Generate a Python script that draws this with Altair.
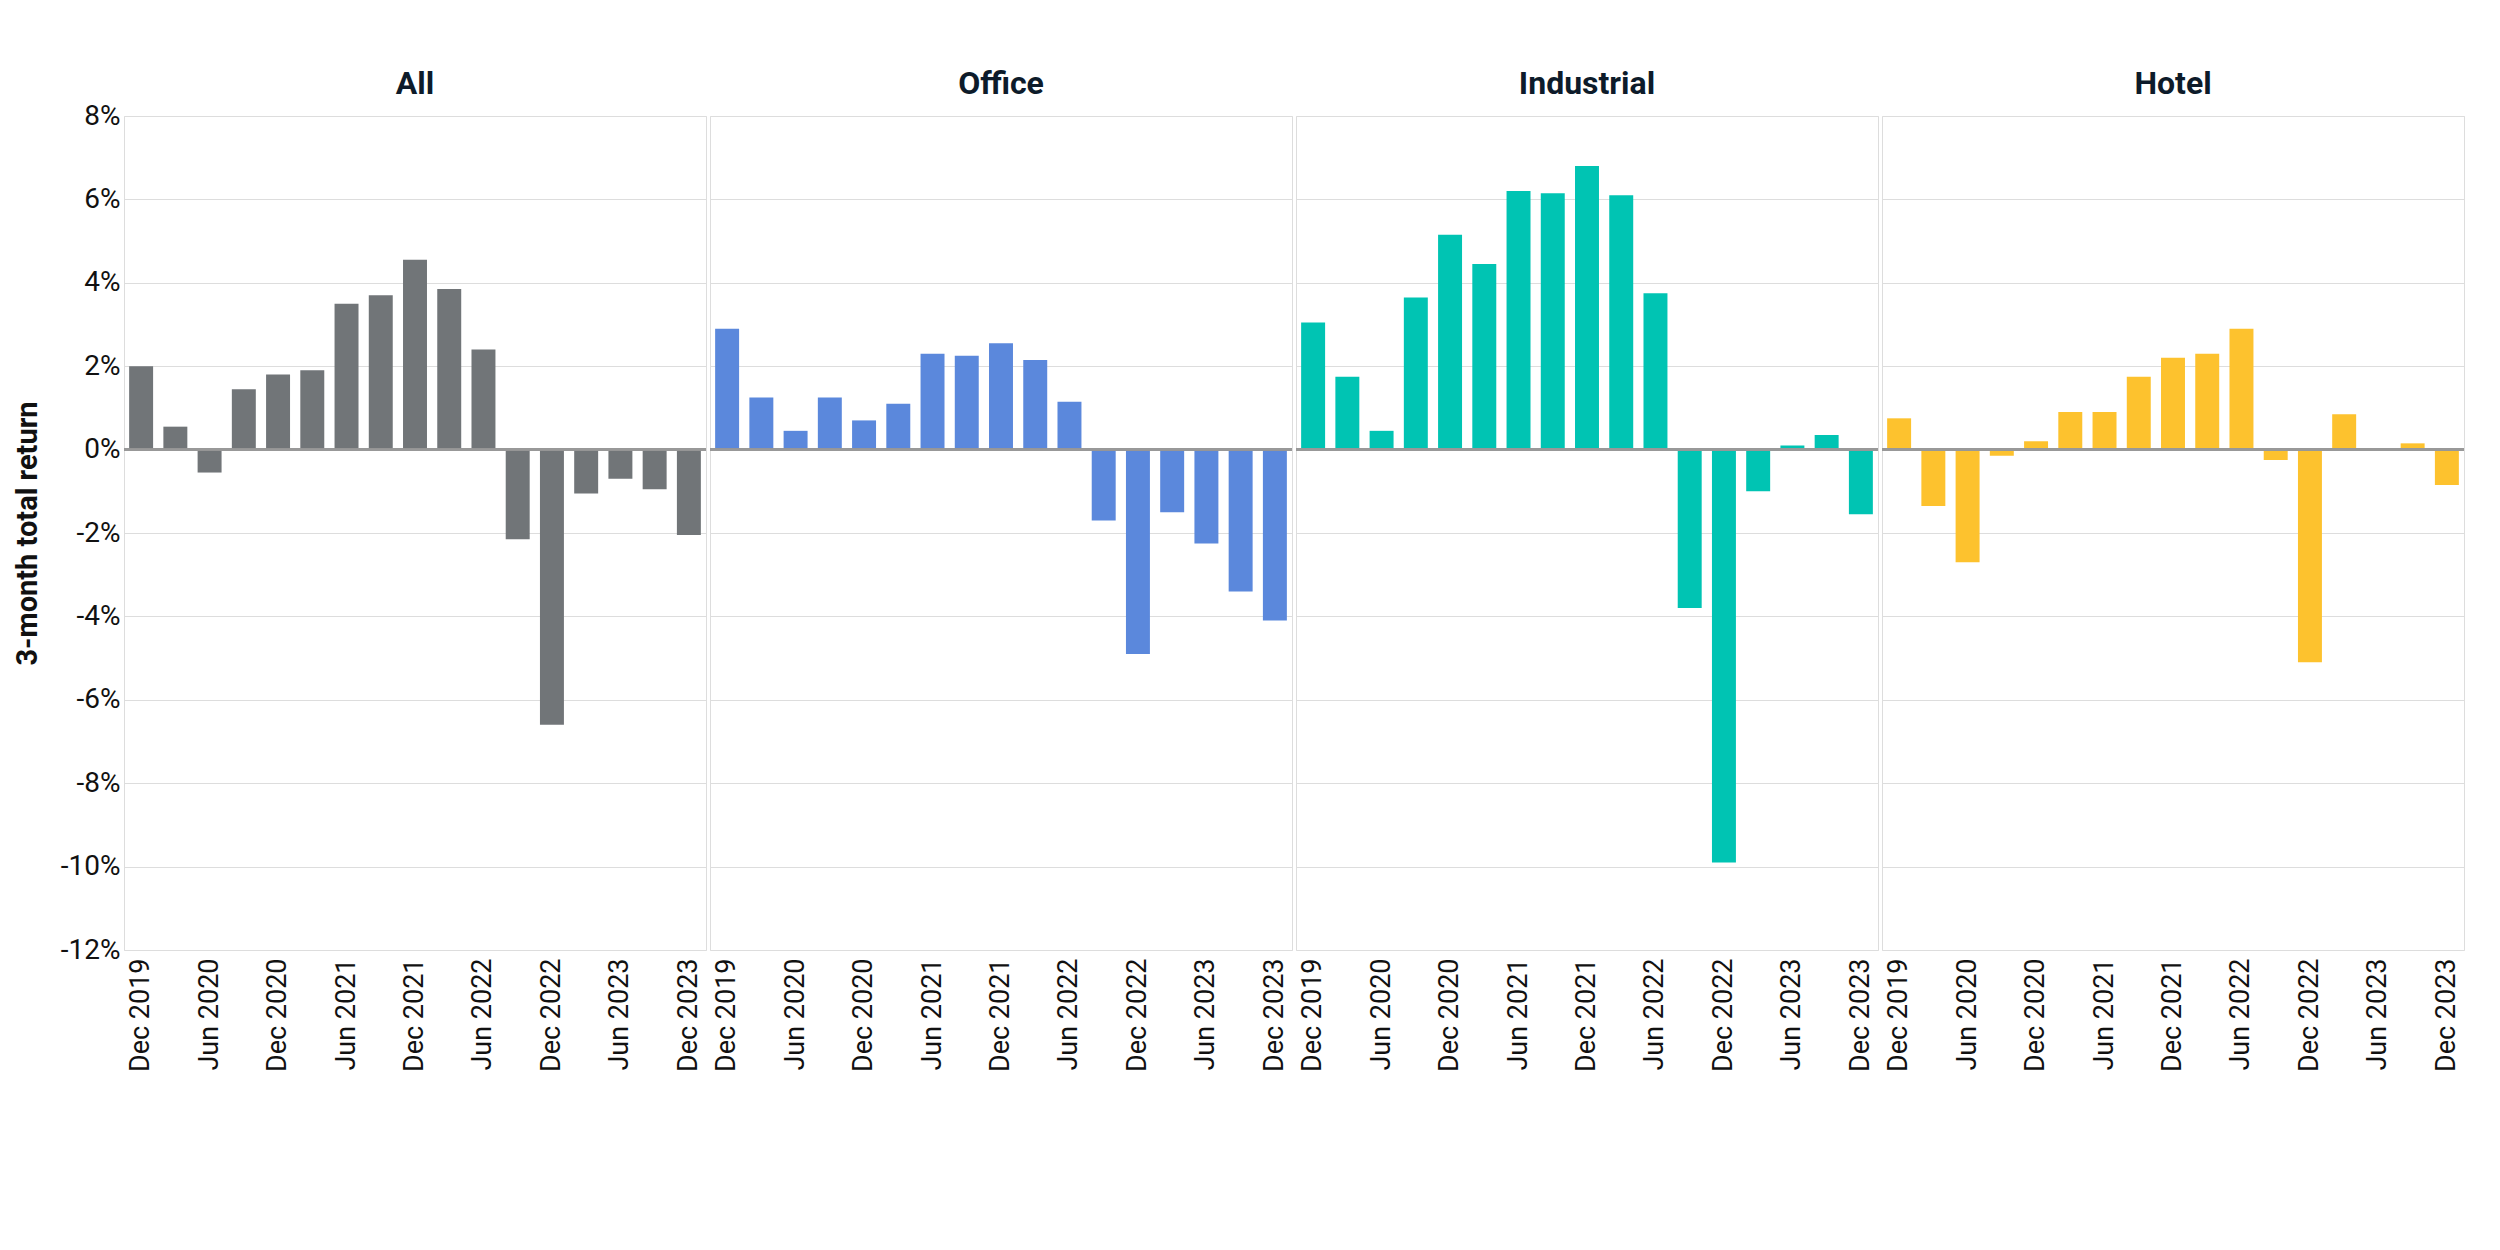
import altair as alt
import pandas as pd

quarters = ["Dec 2019","Mar 2020","Jun 2020","Sep 2020","Dec 2020","Mar 2021","Jun 2021","Sep 2021",
            "Dec 2021","Mar 2022","Jun 2022","Sep 2022","Dec 2022","Mar 2023","Jun 2023","Sep 2023","Dec 2023"]
sectors = ["All","Office","Industrial","Hotel"]
all_vals = [2.0,0.55,-0.55,1.45,1.8,1.9,3.5,3.7,4.55,3.85,2.4,-2.15,-6.6,-1.05,-0.7,-0.95,-2.05]
office_vals = [2.9,1.25,0.45,1.25,0.7,1.1,2.3,2.25,2.55,2.15,1.15,-1.7,-4.9,-1.5,-2.25,-3.4,-4.1]
industrial_vals = [3.05,1.75,0.45,3.65,5.15,4.45,6.2,6.15,6.8,6.1,3.75,-3.8,-9.9,-1.0,0.1,0.35,-1.55]
hotel_vals = [0.75,-1.35,-2.7,-0.15,0.2,0.9,0.9,1.75,2.2,2.3,2.9,-0.25,-5.1,0.85,0.0,0.15,-0.85]
colors = ["#717578","#5b88dc","#00c4b3","#fdc22e"]

rows = []
for s, vals in zip(sectors, [all_vals, office_vals, industrial_vals, hotel_vals]):
    for q, v in zip(quarters, vals):
        rows.append({"sector": s, "quarter": q, "value": v / 100})
df = pd.DataFrame(rows)

bars = alt.Chart().mark_bar().encode(
    x=alt.X("quarter:N", sort=quarters, title=None,
            scale=alt.Scale(paddingInner=0.3, paddingOuter=0.15),
            axis=alt.Axis(labelAngle=-90, ticks=False, domain=False, labelFontSize=27,
                          labelColor="#111", labelFont="Roboto", labelPadding=8,
                          labelExpr="test(/^(Dec|Jun)/, datum.label) ? datum.label : ''")),
    y=alt.Y("value:Q", title="3-month total return",
            scale=alt.Scale(domain=[-0.12, 0.08]),
            axis=alt.Axis(format=".0%", values=[-0.12,-0.1,-0.08,-0.06,-0.04,-0.02,0,0.02,0.04,0.06,0.08],
                          labelExpr="replace(datum.label, '\u2212', '-')",
                          labelFontSize=28, labelColor="#111", labelFont="Roboto",
                          titleFontSize=29, titleFont="Roboto", titleColor="#111",
                          titleFontWeight="bold", titlePadding=18,
                          domain=False, ticks=False, gridColor="#dddddd")),
    color=alt.Color("sector:N", scale=alt.Scale(domain=sectors, range=colors), legend=None),
)
zero = alt.Chart().mark_rule(color="#999999", strokeWidth=1.5).encode(y=alt.datum(0))

chart = alt.layer(bars, zero, data=df).properties(width=582, height=834).facet(
    column=alt.Column("sector:N", sort=sectors, title=None,
                      header=alt.Header(labelFontSize=32, labelFontWeight="bold", labelFont="Roboto",
                                        labelColor="#0d1b2a", labelPadding=14)),
    spacing=0
).resolve_scale(x="independent").properties(
    padding={"top": 60, "left": 5, "right": 5, "bottom": 5}
).configure_view(strokeWidth=0, stroke="transparent").configure(background="white")

chart.save("out.html", embed_options={"renderer": "svg", "actions": False})
